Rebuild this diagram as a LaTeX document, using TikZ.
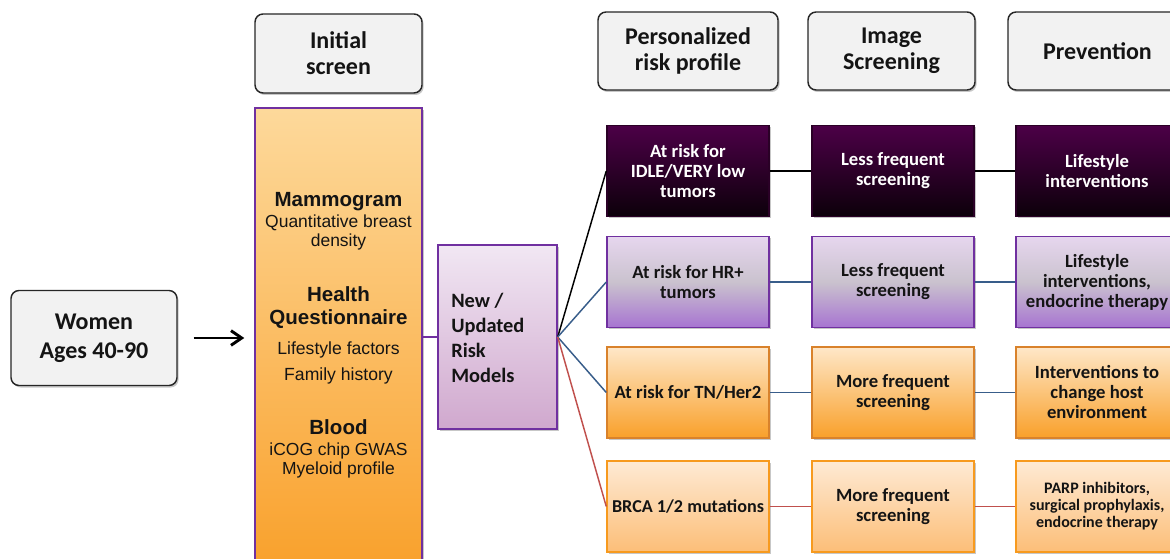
\documentclass[tikz,border=0pt]{standalone}
\usepackage{fontspec}
\setmainfont{Carlito}
\newfontfamily\arialf{Liberation Sans}
\usetikzlibrary{arrows.meta,shadows}
\definecolor{hdrfill}{HTML}{F2F2F2}
\definecolor{hdrline}{HTML}{262626}
\definecolor{purp}{HTML}{7030A0}
\definecolor{initTop}{HTML}{FDD99B}
\definecolor{initBot}{HTML}{F9A02A}
\definecolor{newTop}{HTML}{F1E7F3}
\definecolor{newBot}{HTML}{D0A8CE}
\definecolor{rOneTop}{HTML}{4C0047}
\definecolor{rOneBot}{HTML}{0C000A}
\definecolor{rOneLine}{HTML}{2A0026}
\definecolor{rTwoTop}{HTML}{E6D6EE}
\definecolor{rTwoMid}{HTML}{CAC2CE}
\definecolor{rTwoBot}{HTML}{A774D1}
\definecolor{rThreeTop}{HTML}{FEE7C8}
\definecolor{rThreeBot}{HTML}{F9A02A}
\definecolor{rThreeLine}{HTML}{D9822B}
\definecolor{rFourTop}{HTML}{FEEAD4}
\definecolor{rFourBot}{HTML}{FCBE78}
\definecolor{rFourLine}{HTML}{F79A1E}
\definecolor{linkBlue}{HTML}{385D8A}
\definecolor{linkRed}{HTML}{C0504D}
\definecolor{txt}{HTML}{141414}
\pgfdeclareverticalshading{rowtwoshade}{100bp}{color(0bp)=(rTwoBot); color(25bp)=(rTwoBot); color(50bp)=(rTwoMid); color(75bp)=(rTwoTop); color(100bp)=(rTwoTop)}
\begin{document}
\begin{tikzpicture}[x=0.75pt,y=-0.75pt,
  shadowed/.style={drop shadow={shadow xshift=1.2pt,shadow yshift=-1.5pt,fill=black,opacity=0.22}},
  hdr/.style={shadowed,draw=hdrline,fill=hdrfill,rounded corners=6pt,line width=1.1pt,
    align=center,inner sep=0pt,text=txt,font=\fontsize{18}{19.5}\selectfont\bfseries},
  rowbox/.style={shadowed,rectangle,line width=1.1pt,align=center,inner sep=1pt,
    minimum width=162*0.75pt,minimum height=91*0.75pt,text=txt,
    font=\fontsize{14}{15}\selectfont\bfseries},
  rowA/.style={rowbox,draw=rOneLine,top color=rOneTop,bottom color=rOneBot,text=white},
  rowB/.style={rowbox,draw=purp,shading=rowtwoshade},
  rowC/.style={rowbox,draw=rThreeLine,top color=rThreeTop,bottom color=rThreeBot},
  rowD/.style={rowbox,draw=rFourLine,top color=rFourTop,bottom color=rFourBot},
  link/.style={line width=1.1pt},
  inittxt/.style={align=center,inner sep=0pt,text=txt},
]
\useasboundingbox (0,0) rectangle (1170,559);
\clip (0,0) rectangle (1170,559);

% headers
\node[hdr,minimum width=166*0.75pt,minimum height=95*0.75pt,font=\fontsize{18}{21.75}\selectfont\bfseries] (women) at (94,338) {Women\\Ages 40-90};
\node[hdr,minimum width=167*0.75pt,minimum height=79*0.75pt] (h1) at (338.5,53.5) {Initial\\screen};
\node[hdr,minimum width=180*0.75pt,minimum height=78*0.75pt] (h2) at (688,51) {Personalized\\risk profile};
\node[hdr,minimum width=167*0.75pt,minimum height=78*0.75pt] (h3) at (891.5,51) {Image\\Screening};
\node[hdr,minimum width=179*0.75pt,minimum height=78*0.75pt] (h4) at (1097.5,51) {Prevention};

% initial screen column
\node[shadowed,draw=purp,line width=1.1pt,top color=initTop,bottom color=initBot,
  minimum width=167*0.75pt,minimum height=467*0.75pt,inner sep=0pt] (initbox) at (338.5,341.5) {};
\node[inittxt,font=\arialf\fontsize{13.1}{14.25}\selectfont] (mammo) at (338.5,221.5)
  {{\fontsize{15.4}{17}\selectfont\bfseries Mammogram}\\[1.5pt]Quantitative breast\\density};
\node[inittxt,font=\arialf\fontsize{13.2}{19.5}\selectfont] (health) at (338.5,335.5)
  {{\fontsize{15.4}{17}\selectfont\bfseries Health}\\[-2.8pt]{\fontsize{15.4}{17}\selectfont\bfseries Questionnaire}\\[3pt]Lifestyle factors\\Family history};
\node[inittxt,font=\arialf\fontsize{13.1}{14}\selectfont] (blood) at (338.5,448.5)
  {{\fontsize{15.4}{17}\selectfont\bfseries Blood}\\[2pt]iCOG chip GWAS\\Myeloid profile};

% risk model box
\node[shadowed,draw=purp,line width=1.1pt,top color=newTop,bottom color=newBot,
  minimum width=119*0.75pt,minimum height=184*0.75pt,inner sep=0pt] (newbox) at (497.5,337) {};
\node[anchor=west,align=left,inner sep=0pt,text=txt,font=\fontsize{15.3}{18.75}\selectfont\bfseries]
  (newtxt) at (451,337.5) {New /\\Updated\\Risk\\Models};

% rows
\node[rowA] (a1) at (688,171) {At risk for\\IDLE/VERY low\\tumors};
\node[rowA] (a2) at (893,171) {Less frequent\\screening};
\node[rowA] (a3) at (1097,171) {Lifestyle\\interventions};

\node[rowB] (b1) at (688,282) {At risk for HR+\\tumors};
\node[rowB] (b2) at (893,282) {Less frequent\\screening};
\node[rowB] (b3) at (1097,282) {Lifestyle\\interventions,\\endocrine therapy};

\node[rowC] (c1) at (688,392.5) {At risk for TN/Her2};
\node[rowC] (c2) at (893,392.5) {More frequent\\screening};
\node[rowC] (c3) at (1097,392.5) {Interventions to\\change host\\environment};

\node[rowD,font=\fontsize{13.6}{15}\selectfont\bfseries] (d1) at (688,506.5) {BRCA 1/2 mutations};
\node[rowD] (d2) at (893,506.5) {More frequent\\screening};
\node[rowD,font=\fontsize{12}{12.75}\selectfont\bfseries] (d3) at (1097,506.5) {PARP inhibitors,\\surgical prophylaxis,\\endocrine therapy};

% connectors
\draw[line width=2.2pt,-{Straight Barb[length=8pt,width=11pt,line width=2.2pt]},shorten <=12pt,shorten >=7.5pt]
  (women.east) -- (women.east -| initbox.west);
\draw[link,draw=purp] (newbox.west -| initbox.east) -- (newbox.west);

\draw[link,draw=black] (newbox.east) -- (a1.west);
\draw[link,draw=linkBlue] (newbox.east) -- (b1.west);
\draw[link,draw=linkBlue] (newbox.east) -- (c1.west);
\draw[link,draw=linkRed] (newbox.east) -- (d1.west);

\draw[link,draw=black] (a1.east) -- (a2.west);
\draw[link,draw=black] (a2.east) -- (a3.west);
\draw[link,draw=linkBlue] (b1.east) -- (b2.west);
\draw[link,draw=linkBlue] (b2.east) -- (b3.west);
\draw[link,draw=linkBlue] (c1.east) -- (c2.west);
\draw[link,draw=linkBlue] (c2.east) -- (c3.west);
\draw[link,draw=linkRed] (d1.east) -- (d2.west);
\draw[link,draw=linkRed] (d2.east) -- (d3.west);
\end{tikzpicture}
\end{document}
